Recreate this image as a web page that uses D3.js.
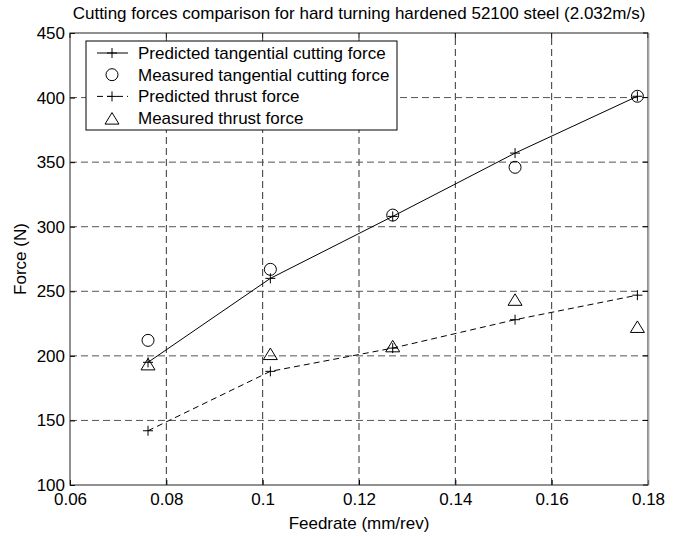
<!DOCTYPE html>
<html>
<head>
<meta charset="utf-8">
<script src="https://cdn.jsdelivr.net/npm/d3@7"></script>
<style>
  body { margin: 0; background: #fff; }
  svg text { font-family: "Liberation Sans", Arial, sans-serif; fill: #000; }
</style>
</head>
<body>
<svg width="682" height="537"></svg>
<script>
// feedrate values (mm/rev)
const feedrate = [0.0762, 0.1016, 0.127, 0.1524, 0.1778];
const predTangential = [195, 260, 308, 357, 401];
const measTangential = [212, 267, 309, 346, 401];
const predThrust = [142, 188, 206, 228, 247];
const measThrust = [193, 201, 207, 243, 222];

const xTicks = [0.06, 0.08, 0.1, 0.12, 0.14, 0.16, 0.18];
const yTicks = [100, 150, 200, 250, 300, 350, 400, 450];

const legendLabels = [
  "Predicted tangential cutting force",
  "Measured tangential cutting force",
  "Predicted thrust force",
  "Measured thrust force"
];

const margin = { left: 70, right: 34, top: 33, bottom: 52 };
const width = 682, height = 537;
const fs = "17px";

const svg = d3.select("svg");

const x = d3.scaleLinear().domain([0.06, 0.18]).range([margin.left, width - margin.right]);
const y = d3.scaleLinear().domain([100, 450]).range([height - margin.bottom, margin.top]);

const plot = svg.append("g");

// grid
plot.selectAll(".vgrid")
  .data(xTicks.slice(1, -1))
  .enter().append("line")
  .attr("x1", d => x(d)).attr("x2", d => x(d))
  .attr("y1", y(100)).attr("y2", y(450))
  .attr("stroke", "#333").attr("stroke-dasharray", "7,4");

plot.selectAll(".hgrid")
  .data(yTicks.slice(1, -1))
  .enter().append("line")
  .attr("x1", x(0.06)).attr("x2", x(0.18))
  .attr("y1", d => y(d)).attr("y2", d => y(d))
  .attr("stroke", "#555").attr("stroke-dasharray", "7,4");

// axes
const xAxis = d3.axisBottom(x).tickValues(xTicks).tickSize(-5).tickPadding(8)
  .tickFormat(d => d3.format("")(+d.toFixed(2)));
const yAxis = d3.axisLeft(y).tickValues(yTicks).tickSize(-5).tickPadding(5);

const gx = svg.append("g").attr("transform", `translate(0,${y(100)})`).call(xAxis);
const gy = svg.append("g").attr("transform", `translate(${x(0.06)},0)`).call(yAxis);
[gx, gy].forEach(g => {
  g.select(".domain").remove();
  g.selectAll("line").attr("stroke", "#000");
  g.selectAll("text").style("font-size", fs).attr("fill", "#000");
});

// top and right ticks
svg.selectAll(".ttick").data(xTicks).enter().append("line")
  .attr("x1", d => x(d)).attr("x2", d => x(d))
  .attr("y1", y(450)).attr("y2", y(450) + 5).attr("stroke", "#000");
svg.selectAll(".rtick").data(yTicks).enter().append("line")
  .attr("x1", x(0.18) - 5).attr("x2", x(0.18))
  .attr("y1", d => y(d)).attr("y2", d => y(d)).attr("stroke", "#000");

// box
svg.append("rect")
  .attr("x", x(0.06)).attr("y", y(450))
  .attr("width", x(0.18) - x(0.06)).attr("height", y(100) - y(450))
  .attr("fill", "none").attr("stroke", "#222");
svg.append("line")
  .attr("x1", x(0.18) + 1).attr("x2", x(0.18) + 1)
  .attr("y1", y(450)).attr("y2", y(100))
  .attr("stroke", "#bbb");

// lines
const line = d3.line().x(d => x(d[0])).y(d => y(d[1]));

plot.append("path")
  .datum(d3.zip(feedrate, predTangential))
  .attr("d", line).attr("fill", "none").attr("stroke", "#000");

plot.append("path")
  .datum(d3.zip(feedrate, predThrust))
  .attr("d", line).attr("fill", "none").attr("stroke", "#000")
  .attr("stroke-dasharray", "6,4");

// markers
function plus(g, cx, cy) {
  g.append("path")
    .attr("d", `M${cx - 5},${cy}H${cx + 5}M${cx},${cy - 5}V${cy + 5}`)
    .attr("stroke", "#000").attr("fill", "none");
}
function circle(g, cx, cy) {
  g.append("circle").attr("cx", cx).attr("cy", cy).attr("r", 6)
    .attr("fill", "none").attr("stroke", "#000");
}
function triangle(g, cx, cy) {
  g.append("path")
    .attr("d", `M${cx},${cy - 6.5}L${cx + 7},${cy + 5}L${cx - 7},${cy + 5}Z`)
    .attr("fill", "none").attr("stroke", "#000");
}

feedrate.forEach((f, i) => {
  plus(plot, x(f), y(predTangential[i]));
  circle(plot, x(f), y(measTangential[i]));
  plus(plot, x(f), y(predThrust[i]));
  triangle(plot, x(f), y(measThrust[i]));
});

// legend
const lg = svg.append("g").attr("transform", "translate(86,41)");
lg.append("rect").attr("width", 311).attr("height", 89)
  .attr("fill", "#fff").attr("stroke", "#000");

const rowY = i => 12 + i * 21.7;
legendLabels.forEach((label, i) => {
  const cy = rowY(i);
  if (i === 0) {
    lg.append("line").attr("x1", 11).attr("x2", 42).attr("y1", cy).attr("y2", cy).attr("stroke", "#000");
    plus(lg, 26, cy);
  } else if (i === 1) {
    circle(lg, 26, cy);
  } else if (i === 2) {
    lg.append("line").attr("x1", 11).attr("x2", 42).attr("y1", cy).attr("y2", cy)
      .attr("stroke", "#000").attr("stroke-dasharray", "6,4");
    plus(lg, 26, cy);
  } else {
    triangle(lg, 26, cy + 1);
  }
  lg.append("text").attr("x", 52).attr("y", cy + 6)
    .style("font-size", fs).text(label);
});

// title and labels
svg.append("text")
  .attr("x", (x(0.06) + x(0.18)) / 2).attr("y", 19)
  .attr("text-anchor", "middle").style("font-size", fs)
  .text("Cutting forces comparison for hard turning hardened 52100 steel (2.032m/s)");

svg.append("text")
  .attr("x", (x(0.06) + x(0.18)) / 2).attr("y", 529)
  .attr("text-anchor", "middle").style("font-size", fs)
  .text("Feedrate (mm/rev)");

svg.append("text")
  .attr("transform", `translate(26,${(y(100) + y(450)) / 2}) rotate(-90)`)
  .attr("text-anchor", "middle").style("font-size", fs)
  .text("Force (N)");
</script>
</body>
</html>
